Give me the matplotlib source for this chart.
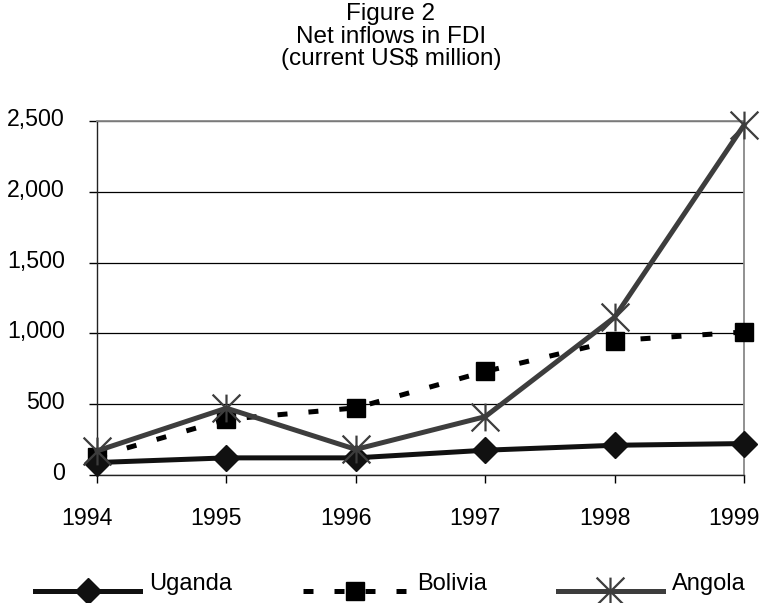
import matplotlib
matplotlib.use("Agg")
import matplotlib.pyplot as plt
import matplotlib.transforms as mtransforms
from matplotlib.path import Path
from matplotlib.ticker import FuncFormatter
from matplotlib.legend_handler import HandlerLine2D

years = [1994, 1995, 1996, 1997, 1998, 1999]
uganda = [88, 121, 121, 175, 210, 222]
bolivia = [130, 393, 474, 731, 949, 1010]
angola = [170, 472, 181, 412, 1114, 2471]
yticks = [0, 500, 1000, 1500, 2000, 2500]

plt.rcParams['font.family'] = ['Liberation Sans', 'DejaVu Sans']

star = Path([(-1, -1), (1, 1), (-1, 1), (1, -1), (0, -1), (0, 1)],
            [Path.MOVETO, Path.LINETO, Path.MOVETO, Path.LINETO, Path.MOVETO, Path.LINETO])

fig = plt.figure(figsize=(7.63, 6.03), dpi=100)
ax = fig.add_axes([97/763, 1 - 475/603, (744-97)/763, (475-121)/603])

ax.plot(years, uganda, color='#111111', lw=3.6, marker='D', ms=13, label='Uganda', clip_on=False, zorder=4)
ax.plot(years, bolivia, color='#000000', lw=3.6, ls=(0, (2.0, 4.2)), marker='s', ms=12.5, label='Bolivia', clip_on=False, zorder=3)
ax.plot(years, angola, color='#3d3d3d', lw=3.6, marker=star, ms=20, mew=1.6, mec='#3d3d3d', label='Angola', clip_on=False, zorder=5)

ax.set_xlim(1994, 1999)
ax.set_ylim(0, 2500)
ax.set_xticks(years)
ax.set_yticks(yticks)
ax.yaxis.set_major_formatter(FuncFormatter(lambda v, p: f"{int(v):,}"))
ax.grid(axis='y', color='black', lw=0.9)
ax.set_axisbelow(True)
for s in ['top', 'right']:
    ax.spines[s].set_color('#888888')
    ax.spines[s].set_linewidth(1.3)
for s in ['left', 'bottom']:
    ax.spines[s].set_color('#222222')
    ax.spines[s].set_linewidth(1.0)
ax.tick_params(axis='both', direction='out', length=6, width=1, labelsize=16.7, colors='black')
ax.tick_params(axis='x', pad=17)
ax.tick_params(axis='y', pad=17)

xoff = mtransforms.ScaledTranslation(-0.10, 0, fig.dpi_scale_trans)
for lab in ax.get_xticklabels():
    lab.set_transform(lab.get_transform() + xoff)
yoff = mtransforms.ScaledTranslation(0, 0.04, fig.dpi_scale_trans)
for lab in ax.get_yticklabels():
    lab.set_transform(lab.get_transform() + yoff)

fig.text(391/763, 1 - 3/603, "Figure 2\nNet inflows in FDI\n(current US$ million)", ha='center', va='top',
         fontsize=17.5, linespacing=1.03)


class ShiftHandler(HandlerLine2D):
    def create_artists(self, legend, orig_handle, xdescent, ydescent, width, height, fontsize, trans):
        trans = trans + mtransforms.Affine2D().translate(0, -9)
        return super().create_artists(legend, orig_handle, xdescent, ydescent, width, height, fontsize, trans)


handles, labels = ax.get_legend_handles_labels()
leg = fig.legend(handles, labels, loc='lower left', bbox_to_anchor=(35/763, 8/603), ncol=3, frameon=False,
                 fontsize=17, handlelength=4.45, columnspacing=3.0, handletextpad=0.38,
                 borderpad=0, borderaxespad=0, markerscale=1.0,
                 handler_map={h: ShiftHandler() for h in handles})

fig.savefig('out.png', dpi=100)
